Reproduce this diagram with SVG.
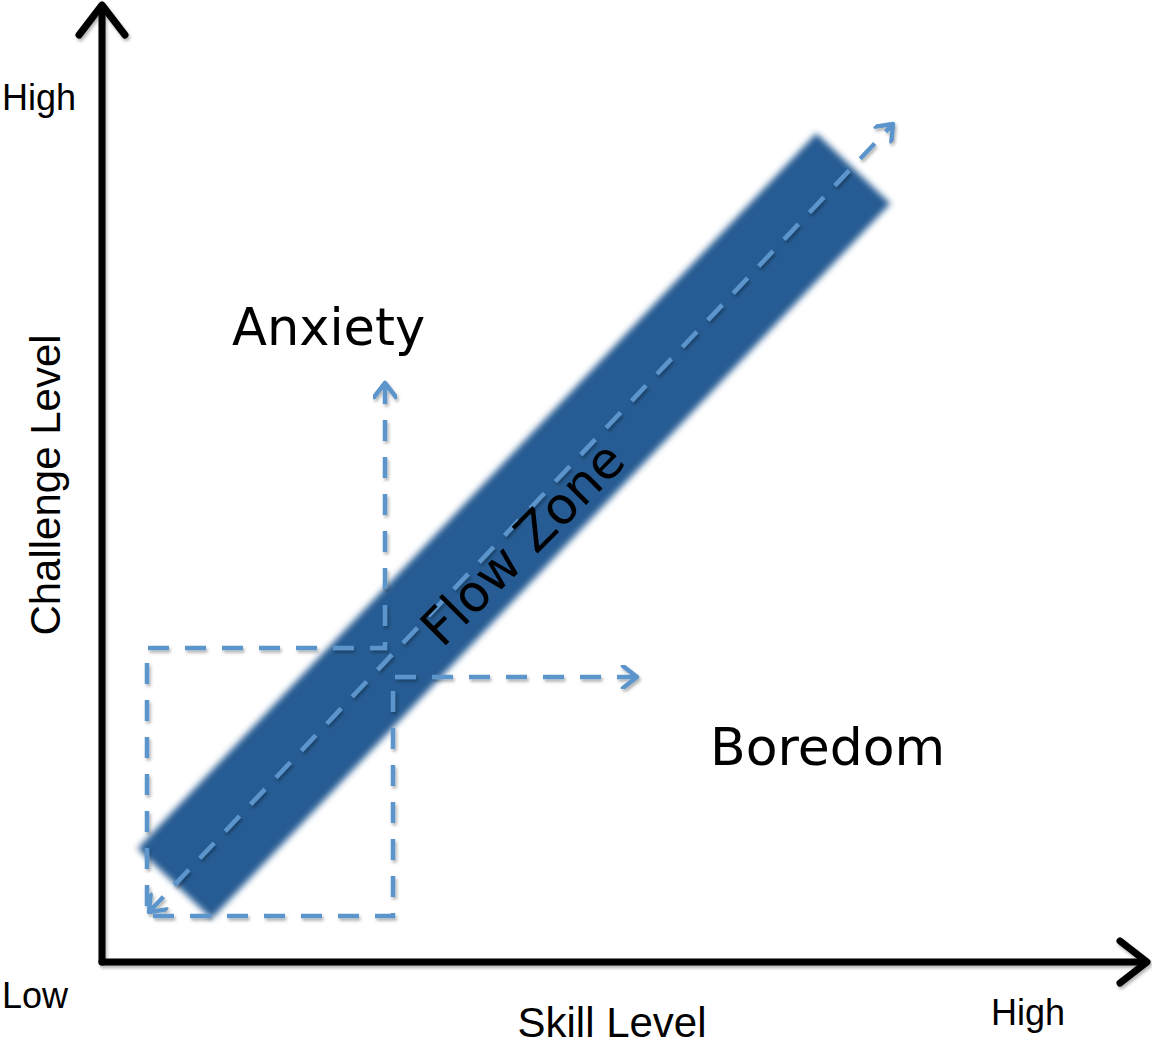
<svg xmlns="http://www.w3.org/2000/svg" width="1152" height="1047" viewBox="0 0 1152 1047">
<defs>
<style>
.axis{fill:none;stroke:#000;stroke-width:7;stroke-linecap:round;stroke-linejoin:round}
.dash{fill:none;stroke:#5B95CB;stroke-width:4.5;stroke-dasharray:21 16}
.lbl{font-family:"Liberation Sans",Arial,sans-serif;fill:#000}
.big{font-family:"DejaVu Sans","Noto Sans",sans-serif;fill:#000}
</style>
<filter id="blur" x="-10%" y="-10%" width="120%" height="120%"><feGaussianBlur stdDeviation="3"/></filter>
<filter id="sh" x="-5%" y="-5%" width="110%" height="110%"><feDropShadow dx="1.5" dy="2.5" stdDeviation="1.8" flood-color="#000" flood-opacity="0.3"/></filter>
<marker id="ah" markerUnits="userSpaceOnUse" viewBox="-20 -12 24 24" refX="0" refY="0" markerWidth="24" markerHeight="24" orient="auto-start-reverse">
<path d="M-14,-11 L0,0 L-14,11" fill="none" stroke="#5B95CB" stroke-width="4.5" stroke-linecap="round" stroke-linejoin="round"/>
</marker>
</defs>
<g id="flow-band">
<rect x="-493" y="-51" width="986" height="102" fill="#285B93" filter="url(#blur)" transform="translate(514,526) rotate(-46.5)"/>
</g>
<g id="connectors" filter="url(#sh)">
<path class="dash" d="M149,912 L893,124" marker-start="url(#ah)" marker-end="url(#ah)"/>
<path class="dash" d="M385,383 V648 H147 V916 H393 V677 H637" marker-start="url(#ah)" marker-end="url(#ah)"/>
</g>
<g id="axes" filter="url(#sh)">
<path class="axis" d="M102,962 V6"/>
<path class="axis" d="M79,35 L102,5 L125,35"/>
<path class="axis" d="M102,962 H1146"/>
<path class="axis" d="M1120,941 L1147,962 L1120,983"/>
</g>
<g id="axis-labels">
<text class="lbl" x="2" y="110" font-size="36">High</text>
<text class="lbl" x="2" y="1008" font-size="36">Low</text>
<text class="lbl" x="991" y="1025" font-size="36">High</text>
<text class="lbl" x="612" y="1037" font-size="42" text-anchor="middle">Skill Level</text>
<text class="lbl" x="0" y="0" font-size="42" text-anchor="middle" transform="translate(60,485) rotate(-90)">Challenge Level</text>
</g>
<g id="anxiety"><text class="big" x="232" y="345" font-size="51">Anxiety</text></g>
<g id="boredom"><text class="big" x="710" y="765" font-size="52">Boredom</text></g>
<g id="flow-zone"><text class="big" x="0" y="0" text-anchor="middle" font-size="51" transform="translate(535,556) rotate(-45)">Flow Zone</text></g>
</svg>
